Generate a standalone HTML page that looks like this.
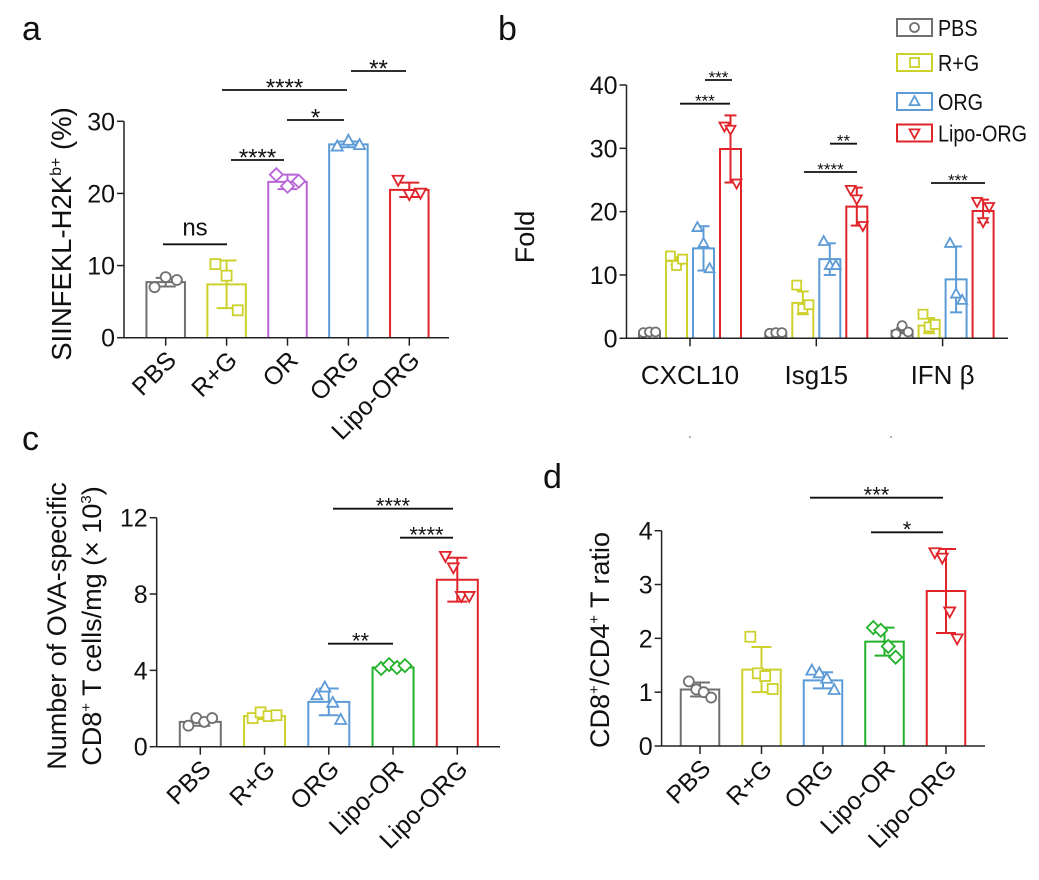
<!DOCTYPE html>
<html><head><meta charset="utf-8"><style>
html,body{margin:0;padding:0;background:#fff;}
svg{display:block;font-family:"Liberation Sans",Arial,sans-serif;}
</style></head><body>
<svg id="fig" width="1039" height="880" viewBox="0 0 1039 880" xmlns="http://www.w3.org/2000/svg"></svg>
<script>
// ---------- Panel a data ----------
const aCats = ["PBS","R+G","OR","ORG","Lipo-ORG"];
const aMeans = [7.7, 7.4, 21.6, 26.8, 20.5];
const aSD = [0.6, 3.3, 1.0, 0.4, 1.0];
const aPts = [[7.0,8.4,8.0],[10.2,8.6,3.8],[22.6,21.0,21.7],[26.5,27.3,26.7],[21.9,19.9,20.1]];
const aTicks = [0,10,20,30];
// ---------- Panel b data ----------
const bGroups = ["CXCL10","Isg15","IFN β"];
const bSeries = ["PBS","R+G","ORG","Lipo-ORG"];
const bPBS = [1.0, 0.9, 1.2];
const bRG = [12.2, 5.6, 2.0];
const bORG = [14.2, 12.5, 9.3];
const bLipo = [29.9, 20.8, 20.1];
const bSD_PBS = [0, 0, 0.4];
const bSD_RG = [0.6, 1.8, 1.2];
const bSD_ORG = [3.5, 2.5, 5.2];
const bSD_Lipo = [5.3, 3.0, 1.8];
const bPts_PBS = [[0.9,1.0,1.0],[0.8,0.9,0.9],[0.7,2.0,1.0]];
const bPts_RG = [[13.0,11.5,12.5],[8.4,4.7,5.3],[3.8,1.8,2.2]];
const bPts_ORG = [[17.5,15.0,11.0],[15.3,11.5,11.5],[15.0,7.0,6.0]];
const bPts_Lipo = [[33.5,33.0,24.5],[23.5,22.0,17.8],[21.6,18.4,20.8]];
const bTicks = [0,10,20,30,40];
// ---------- Panel c data ----------
const cCats = ["PBS","R+G","ORG","Lipo-OR","Lipo-ORG"];
const cMeans = [1.3, 1.6, 2.35, 4.15, 8.75];
const cSD = [0.2, 0.15, 0.7, 0.1, 1.15];
const cPts = [[1.1,1.5,1.3,1.5],[1.5,1.8,1.6,1.65],[2.7,3.1,2.3,1.4],[4.1,4.3,4.15,4.25],[10.0,9.4,7.9,7.9]];
const cTicks = [0,4,8,12];
// ---------- Panel d data ----------
const dCats = ["PBS","R+G","ORG","Lipo-OR","Lipo-ORG"];
const dMeans = [1.05, 1.42, 1.22, 1.94, 2.88];
const dSD = [0.13, 0.42, 0.15, 0.26, 0.78];
const dPts = [[1.2,1.05,1.0,0.9],[2.03,1.35,1.3,1.06],[1.4,1.35,1.25,1.04],[2.2,2.15,1.85,1.65],[3.6,3.5,2.5,2.0]];
const dTicks = [0,1,2,3,4];

const NS="http://www.w3.org/2000/svg";
const svg=document.getElementById('fig');
const COL={gray:"#707070",yel:"#cdd12c",pur:"#b866d6",blue:"#5d9bd6",red:"#e0242a",green:"#22b22a"};
function el(tag,attrs,parent){const e=document.createElementNS(NS,tag);for(const k in attrs)e.setAttribute(k,attrs[k]);(parent||svg).appendChild(e);return e;}
function txt(s,attrs,parent){const e=el('text',attrs,parent);e.textContent=s;return e;}

function marker(g,shape,x,y,c,r){
  let m;
  if(shape==='circle') m=el('circle',{cx:x,cy:y,r:r,fill:'#fff',stroke:c,'stroke-width':1.8},g);
  else if(shape==='square') m=el('rect',{x:x-r,y:y-r,width:2*r,height:2*r,fill:'#fff',stroke:c,'stroke-width':1.8},g);
  else if(shape==='diamond') m=el('polygon',{points:`${x},${y-r*1.3} ${x+r*1.3},${y} ${x},${y+r*1.3} ${x-r*1.3},${y}`,fill:'#fff',stroke:c,'stroke-width':1.8},g);
  else if(shape==='tri') m=el('polygon',{points:`${x},${y-r*1.2} ${x+r*1.1},${y+r*0.8} ${x-r*1.1},${y+r*0.8}`,fill:'#fff',stroke:c,'stroke-width':1.8},g);
  else m=el('polygon',{points:`${x},${y+r*1.2} ${x+r*1.1},${y-r*0.8} ${x-r*1.1},${y-r*0.8}`,fill:'#fff',stroke:c,'stroke-width':1.8},g);
  
  
}

function barGroup(g,name,cx,w,mean,sd,pts,Y,c,shape,r,capw){
  const bg=el('g',{},g);
  
  
  const y0=Y(0),ym=Y(mean);
  el('path',{d:`M${cx-w/2},${y0} V${ym} H${cx+w/2} V${y0}`,fill:'none',stroke:c,'stroke-width':2},bg);
  if(sd>0){
    const yt=Y(mean+sd),yb=Y(mean-sd);
    el('line',{x1:cx,x2:cx,y1:yt,y2:yb,stroke:c,'stroke-width':2},bg);
    el('line',{x1:cx-capw,x2:cx+capw,y1:yt,y2:yt,stroke:c,'stroke-width':2},bg);
    el('line',{x1:cx-capw,x2:cx+capw,y1:yb,y2:yb,stroke:c,'stroke-width':2},bg);
  }
  const n=pts.length;
  pts.forEach((v,i)=>{
    const off=(i-(n-1)/2)*(w*0.58/(n-1||1));
    marker(bg,shape,cx+off,Y(v),c,r);
  });
}

function yAxis(g,x,top,bot,ticks,Y,fs){
  const a=el('g',{},g);
  
  
  el('line',{x1:x,x2:x,y1:Y(ticks[ticks.length-1]),y2:bot,stroke:'#222','stroke-width':1.5},a);
  ticks.forEach(t=>{
    el('line',{x1:x-7,x2:x,y1:Y(t),y2:Y(t),stroke:'#222','stroke-width':1.5},a);
    const tl=txt(String(t),{x:x-9,y:Y(t)+fs*0.36,'font-size':fs,'text-anchor':'end',fill:'#111'},a);
    
    
  });
}
function xAxisCats(g,x1,x2,y,ticksX,cats,fs){
  const a=el('g',{},g);
  
  
  el('line',{x1:x1,x2:x2,y1:y,y2:y,stroke:'#222','stroke-width':1.5},a);
  ticksX.forEach((tx,i)=>{
    el('line',{x1:tx,x2:tx,y1:y,y2:y+8,stroke:'#222','stroke-width':1.5},a);
    const ax=tx+12,ay=y+24;
    const t=txt(cats[i],{x:ax,y:ay,'font-size':fs,'text-anchor':'end',transform:`rotate(-45 ${ax} ${ay})`,fill:'#111'},a);
    
    
  });
}
function sig(g,x1,x2,y,label,fs){
  const s=el('g',{},g);
  
  
  el('line',{x1:x1,x2:x2,y1:y,y2:y,stroke:'#111','stroke-width':1.8},s);
  txt(label,{x:(x1+x2)/2,y:label==='ns'?y-9:y-3+fs*0.35,'font-size':fs,'text-anchor':'middle',fill:'#111'},s);
}
function panelLetter(s,x,y){const t=txt(s,{x:x,y:y,'font-size':34,fill:'#111'});}

// ===== Panel a =====
(function(){
  const g=el('g',{});
  
  
  const y0=337.7, pxPer=(337.7-121.3)/30;
  const Y=v=>y0-v*pxPer;
  const X=i=>165.7+i*60.9;
  const cols=[COL.gray,COL.yel,COL.pur,COL.blue,COL.red];
  const shapes=['circle','square','diamond','tri','down'];
  aMeans.forEach((m,i)=>barGroup(g,'bar-'+aCats[i].toLowerCase(),X(i),38.5,m,aSD[i],aPts[i],Y,cols[i],shapes[i],5,10));
  yAxis(g,124,121,y0,aTicks,Y,25);
  xAxisCats(g,124,449,y0,aCats.map((c,i)=>X(i)),aCats,25);
  const yl=txt('',{x:0,y:0,'font-size':27.5,'text-anchor':'middle',transform:'translate(71 234) rotate(-90)',fill:'#111'},g);
  
  
  yl.innerHTML='SIINFEKL-H2K<tspan dy="-10" font-size="16">b+</tspan><tspan dy="10"> (%)</tspan>';
  sig(g,163,227,244.3,'ns',24);
  sig(g,231,284,160,'****',24);
  sig(g,287,344,120,'*',24);
  sig(g,222,347,90,'****',24);
  sig(g,351,406,71,'**',24);
})();
panelLetter('a',22,40);

// ===== Panel b =====
(function(){
  const g=el('g',{});
  
  
  const y0=338.3, pxPer=(338.3-85)/40;
  const Y=v=>y0-v*pxPer;
  const GX=i=>690+i*126.3;
  const offs=[-40.5,-13.5,13.5,40.5];
  const cols=[COL.gray,COL.yel,COL.blue,COL.red];
  const shapes=['circle','square','tri','down'];
  const means=[bPBS,bRG,bORG,bLipo], sds=[bSD_PBS,bSD_RG,bSD_ORG,bSD_Lipo], pts=[bPts_PBS,bPts_RG,bPts_ORG,bPts_Lipo];
  bGroups.forEach((grp,gi)=>{
    bSeries.forEach((s,si)=>{
      barGroup(g,'bar-'+s.toLowerCase()+'-'+gi,GX(gi)+offs[si],21,means[si][gi],sds[si][gi],pts[si][gi],Y,cols[si],shapes[si],4.5,6);
    });
  });
  yAxis(g,626.5,85,y0,bTicks,Y,25);
  const a=el('g',{},g);
  
  
  el('line',{x1:626.5,x2:1008,y1:y0,y2:y0,stroke:'#222','stroke-width':1.5},a);
  bGroups.forEach((grp,gi)=>{
    el('line',{x1:GX(gi),x2:GX(gi),y1:y0,y2:y0+8,stroke:'#222','stroke-width':1.5},a);
    const t=txt(grp,{x:GX(gi),y:384,'font-size':26,'text-anchor':'middle',fill:'#111'},a);
    
    
  });
  const yl=txt('Fold',{x:0,y:0,'font-size':27,'text-anchor':'middle',transform:'translate(534 237) rotate(-90)',fill:'#111'},g);
  
  
  sig(g,680,730,103.7,'***',17);
  sig(g,705,732,80,'***',17);
  sig(g,804,857,172,'****',17);
  sig(g,830,857,143.7,'**',17);
  sig(g,931,985,183,'***',17);
  // legend
  const L=el('g',{},g);
  
  
  const rows=[27.5,62.5,101.5,133];
  bSeries.forEach((s,si)=>{
    const e=el('g',{},L);
    
    
    el('rect',{x:897,y:rows[si]-8.5,width:35,height:17,fill:'#fff',stroke:cols[si],'stroke-width':2},e);
    marker(e,shapes[si],914.5,rows[si],cols[si],4.5);
    txt(s,{x:938,y:rows[si]+8.5,'font-size':23,fill:'#111',transform:`translate(938 0) scale(0.86 1) translate(-938 0)`},e);
  });
  el('circle',{cx:690,cy:437,r:0.8,fill:'#555'},g);
  el('circle',{cx:891,cy:437,r:0.8,fill:'#555'},g);
})();
panelLetter('b',498,40);

// ===== Panel c =====
(function(){
  const g=el('g',{});
  
  
  const y0=746.7, pxPer=(746.7-517.7)/12;
  const Y=v=>y0-v*pxPer;
  const X=i=>200.3+i*64.25;
  const cols=[COL.gray,COL.yel,COL.blue,COL.green,COL.red];
  const shapes=['circle','square','tri','diamond','down'];
  cMeans.forEach((m,i)=>barGroup(g,'bar-'+cCats[i].toLowerCase(),X(i),41,m,cSD[i],cPts[i],Y,cols[i],shapes[i],5,10));
  yAxis(g,156.7,517,y0,cTicks,Y,25);
  xAxisCats(g,156.7,500,y0,cCats.map((c,i)=>X(i)),cCats,25);
  const yl=txt('Number of OVA-specific',{x:0,y:0,'font-size':27,'text-anchor':'middle',transform:'translate(66 626) rotate(-90)',fill:'#111'},g);
  
  
  const yl2=txt('',{x:0,y:0,'font-size':27,'text-anchor':'middle',transform:'translate(101 626) rotate(-90)',fill:'#111'},g);
  
  
  yl2.innerHTML='CD8<tspan dy="-10" font-size="15">+</tspan><tspan dy="10"> T cells/mg (× 10</tspan><tspan dy="-10" font-size="15">3</tspan><tspan dy="10">)</tspan>';
  sig(g,333,453,508.7,'****',22);
  sig(g,400,453,537.7,'****',22);
  sig(g,328,393,643.7,'**',22);
})();
panelLetter('c',22,450);

// ===== Panel d =====
(function(){
  const g=el('g',{});
  
  
  const y0=746, pxPer=(746-530.7)/4;
  const Y=v=>y0-v*pxPer;
  const X=i=>700+i*61.5;
  const cols=[COL.gray,COL.yel,COL.blue,COL.green,COL.red];
  const shapes=['circle','square','tri','diamond','down'];
  dMeans.forEach((m,i)=>barGroup(g,'bar-'+dCats[i].toLowerCase(),X(i),38.5,m,dSD[i],dPts[i],Y,cols[i],shapes[i],5,10));
  yAxis(g,661.6,530,y0,dTicks,Y,25);
  xAxisCats(g,661.6,985,y0,dCats.map((c,i)=>X(i)),dCats,25);
  const yl=txt('',{x:0,y:0,'font-size':27,'text-anchor':'middle',transform:'translate(609 640) rotate(-90)',fill:'#111'},g);
  
  
  yl.innerHTML='CD8<tspan dy="-10" font-size="15">+</tspan><tspan dy="10">/CD4</tspan><tspan dy="-10" font-size="15">+</tspan><tspan dy="10"> T ratio</tspan>';
  sig(g,810,943,497.7,'***',22);
  sig(g,871,943,532.3,'*',22);
})();
panelLetter('d',543,488);
</script>
</body></html>
